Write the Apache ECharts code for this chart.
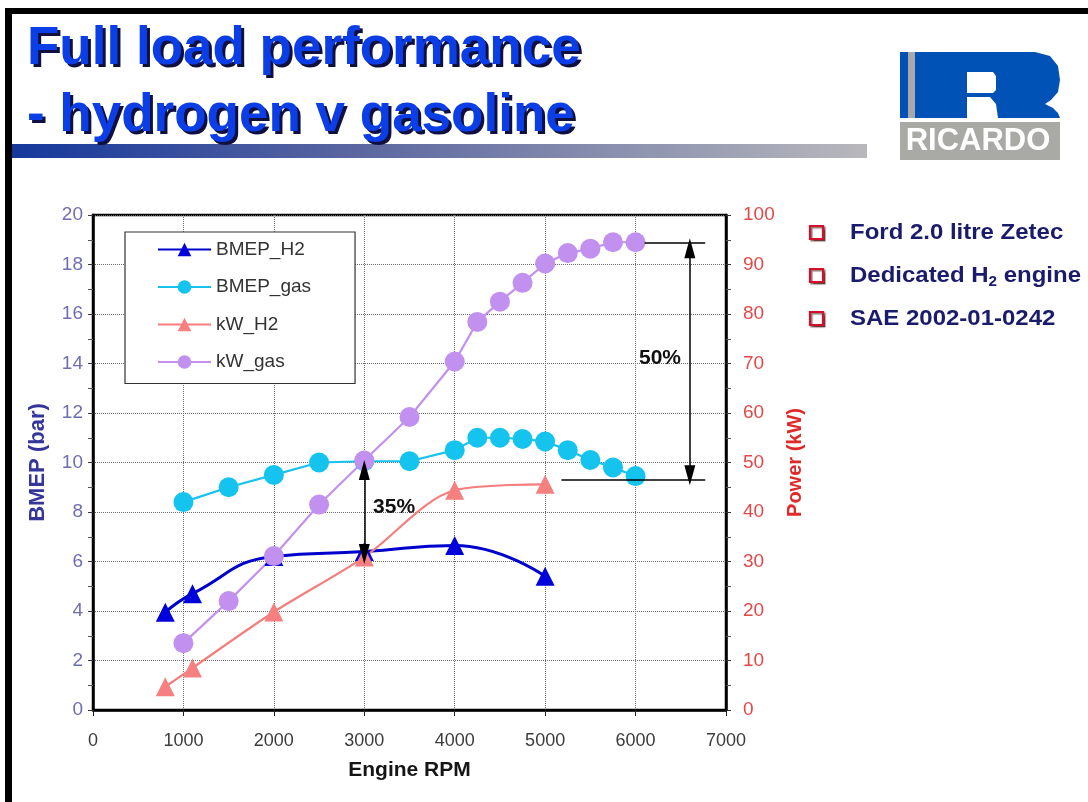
<!DOCTYPE html>
<html>
<head>
<meta charset="utf-8">
<script src="https://cdn.jsdelivr.net/npm/echarts@6/dist/echarts.min.js"></script>
<style>
html,body{margin:0;padding:0;background:#fff;}
#c{width:1088px;height:802px;}
</style>
</head>
<body>
<div id="c"></div>
<script>
// ---- data ----
const rpmH2   = [800, 1100, 2000, 3000, 4000, 5000];
const bmepH2  = [3.95, 4.7, 6.2, 6.4, 6.65, 5.4];
const kwH2    = [4.7, 8.5, 19.8, 30.9, 44.4, 45.6];
const rpmGas  = [1000, 1500, 2000, 2500, 3000, 3500, 4000, 4250, 4500, 4750, 5000, 5250, 5500, 5750, 6000];
const bmepGas = [8.4, 9.0, 9.5, 10.0, 10.05, 10.05, 10.5, 11.0, 11.0, 10.95, 10.85, 10.5, 10.1, 9.8, 9.45];
const kwGas   = [13.5, 22.0, 31.1, 41.5, 50.4, 59.2, 70.4, 78.4, 82.5, 86.3, 90.2, 92.3, 93.2, 94.5, 94.5];
const seriesNames = ['BMEP_H2', 'BMEP_gas', 'kW_H2', 'kW_gas'];
const titleLines = ['Full load performance', '- hydrogen v gasoline'];
const bullets = ['Ford 2.0 litre Zetec', 'Dedicated H|2| engine', 'SAE 2002-01-0242'];
const annotations = ['35%', '50%'];

const FF = "'Liberation Sans', Arial, sans-serif";
const pairs = (xs, ys) => xs.map((x, i) => [x, ys[i]]);

const chart = echarts.init(document.getElementById('c'), null, {renderer: 'canvas'});

const bulletY = [233, 276, 319];
const bulletGraphics = [];
bullets.forEach((b, i) => {
  bulletGraphics.push({
    type: 'rect', x: 810, y: bulletY[i] - 7,
    shape: {x: 0, y: 0, width: 13, height: 13},
    style: {fill: '#fff', stroke: '#d2102c', lineWidth: 2.2,
            shadowColor: 'rgba(60,0,0,0.55)', shadowOffsetX: 1.5, shadowOffsetY: 1.5, shadowBlur: 1}
  });
  const parts = b.split('|');
  let txt;
  if (parts.length === 3) {
    txt = '{a|' + parts[0] + '}{b|' + parts[1] + '}{a|' + parts[2] + '}';
  } else {
    txt = '{a|' + b + '}';
  }
  bulletGraphics.push({
    type: 'text', x: 850, y: bulletY[i], scaleX: 1.09,
    style: {
      text: txt, x: 0, y: 0, verticalAlign: 'middle', align: 'left',
      rich: {
        a: {fontSize: 22, fontWeight: 'bold', fontFamily: FF, fill: '#1b1b6e'},
        b: {fontSize: 14, fontWeight: 'bold', fontFamily: FF, fill: '#1b1b6e', padding: [12, 0, 0, 0]}
      }
    }
  });
});

const titleFont = "bold 53px 'Liberation Sans', Arial, sans-serif";
const titleY = [49, 116];
const titleGraphics = [];
titleLines.forEach((t, i) => {
  titleGraphics.push({type: 'text', x: 30, y: titleY[i] + 3,
    style: {text: t, x: 0, y: 0, verticalAlign: 'middle', font: titleFont, fill: '#101040'}});
  titleGraphics.push({type: 'text', x: 27, y: titleY[i],
    style: {text: t, x: 0, y: 0, verticalAlign: 'middle', font: titleFont, fill: '#0c3ee8'}});
});

const option = {
  animation: false,
  backgroundColor: '#fff',
  textStyle: {fontFamily: FF},
  grid: {left: 93, top: 215, width: 633, height: 495, show: true,
         borderColor: '#000', borderWidth: 2.5, backgroundColor: 'transparent', containLabel: false},
  legend: {
    data: seriesNames, orient: 'vertical', left: 125, top: 232,
    padding: [8, 44, 12, 32], itemGap: 18.5, itemWidth: 53, itemHeight: 17,
    borderColor: '#333', borderWidth: 1.2, backgroundColor: '#fff',
    textStyle: {fontSize: 19, color: '#333', fontFamily: FF, lineHeight: 19, padding: [0, 0, 0, 0]}
  },
  xAxis: {
    type: 'value', min: 0, max: 7000, interval: 1000,
    axisLine: {show: true, onZero: false, lineStyle: {color: '#000', width: 2.5}},
    axisTick: {show: true, length: 6, lineStyle: {color: '#222'}},
    splitLine: {show: true, lineStyle: {color: '#6a6a6a', type: 'dotted', width: 1}},
    axisLabel: {color: '#3c3c3c', fontSize: 18, margin: 22, fontFamily: FF, formatter: v => String(v)},
    name: 'Engine RPM', nameLocation: 'middle', nameGap: 50,
    nameTextStyle: {fontSize: 21, fontWeight: 'bold', color: '#151515', fontFamily: FF}
  },
  yAxis: [
    {
      type: 'value', min: 0, max: 20, interval: 2, position: 'left',
      axisLine: {show: true, onZero: false, lineStyle: {color: '#000', width: 2.5}},
      axisTick: {show: true, length: 5, lineStyle: {color: '#333'}},
      minorTick: {show: true, splitNumber: 2, length: 5, lineStyle: {color: '#555'}},
      splitLine: {show: true, lineStyle: {color: '#6a6a6a', type: 'dotted', width: 1}},
      axisLabel: {color: '#6e6eb2', fontSize: 19, margin: 10, fontFamily: FF},
      name: 'BMEP (bar)', nameLocation: 'middle', nameRotate: 90, nameGap: 44,
      nameTextStyle: {fontSize: 22, fontWeight: 'bold', color: '#35359a', fontFamily: FF}
    },
    {
      type: 'value', min: 0, max: 100, interval: 10, position: 'right',
      axisLine: {show: true, onZero: false, lineStyle: {color: '#000', width: 2.5}},
      axisTick: {show: true, length: 5, lineStyle: {color: '#333'}},
      minorTick: {show: true, splitNumber: 2, length: 5, lineStyle: {color: '#555'}},
      splitLine: {show: false},
      axisLabel: {color: '#e54848', fontSize: 19, margin: 17, fontFamily: FF},
      name: 'Power (kW)', nameLocation: 'middle', nameRotate: 90, nameGap: 56,
      nameTextStyle: {fontSize: 20, fontWeight: 'bold', color: '#e02a2a', fontFamily: FF}
    }
  ],
  series: [
    {
      name: seriesNames[0], type: 'line', yAxisIndex: 0, data: pairs(rpmH2, bmepH2),
      smooth: 0.5, symbol: 'triangle', symbolSize: 19,
      lineStyle: {color: '#0000cc', width: 3}, itemStyle: {color: '#0000dd'}
    },
    {
      name: seriesNames[1], type: 'line', yAxisIndex: 0, data: pairs(rpmGas, bmepGas),
      symbol: 'circle', symbolSize: 20,
      lineStyle: {color: '#17c2ec', width: 2.2}, itemStyle: {color: '#14c4ee'}
    },
    {
      name: seriesNames[2], type: 'line', yAxisIndex: 1, data: pairs(rpmH2, kwH2),
      smooth: 0.3, symbol: 'triangle', symbolSize: 19,
      lineStyle: {color: '#f47d7d', width: 2.2}, itemStyle: {color: '#f68080'}
    },
    {
      name: seriesNames[3], type: 'line', yAxisIndex: 1, data: pairs(rpmGas, kwGas),
      symbol: 'circle', symbolSize: 20,
      lineStyle: {color: '#c390f0', width: 2.2}, itemStyle: {color: '#c291f0'},
      markLine: {
        silent: true, symbolSize: [11, 20], label: {show: false},
        lineStyle: {color: '#000', width: 1.5, type: 'solid'},
        data: [
          [{coord: [3000, 48.5], symbol: 'triangle'}, {coord: [3000, 31.5], symbol: 'triangle'}],
          [{coord: [6100, 94.3], symbol: 'none'}, {coord: [6770, 94.3], symbol: 'none'}],
          [{coord: [5180, 46.5], symbol: 'none'}, {coord: [6770, 46.5], symbol: 'none'}],
          [{coord: [6600, 93.3], symbol: 'triangle'}, {coord: [6600, 47.4], symbol: 'triangle'}]
        ]
      },
      markPoint: {
        silent: true, symbol: 'rect', symbolSize: 1,
        itemStyle: {color: 'rgba(0,0,0,0)'},
        label: {show: true, position: 'inside', fontSize: 21, fontWeight: 'bold', color: '#111', fontFamily: FF},
        data: [
          {coord: [3330, 41], value: annotations[0], label: {formatter: annotations[0]}},
          {coord: [6270, 71], value: annotations[1], label: {formatter: annotations[1]}}
        ]
      }
    }
  ],
  graphic: [
    // slide frame
    {type: 'rect', shape: {x: 5, y: 8, width: 1083, height: 6}, style: {fill: '#000'}},
    {type: 'rect', shape: {x: 5, y: 8, width: 7, height: 794}, style: {fill: '#000'}},
    // gradient bar under title
    {type: 'rect', shape: {x: 12, y: 144, width: 855, height: 14},
     style: {fill: new echarts.graphic.LinearGradient(0, 0, 1, 0, [
       {offset: 0, color: '#15389c'}, {offset: 0.4, color: '#5a66a0'}, {offset: 1, color: '#b8b8bc'}])}},
    // Ricardo logo
    {type: 'polygon', shape: {points: [[900,52],[1035,52],[1050,56],[1058,66],[1060,80],[1058,92],[1051,100],[1045,104],[1053,108],[1058,113],[1060,118],[900,118]]},
     style: {fill: '#0052b6'}},
    {type: 'rect', shape: {x: 908, y: 52, width: 7, height: 66}, style: {fill: '#a8a8a8'}},
    {type: 'polygon', shape: {points: [[967,72],[993,72],[996,76],[996,90],[993,93],[967,93]]}, style: {fill: '#fff'}},
    {type: 'polygon', shape: {points: [[967,97],[990,97],[996,104],[998,118],[967,118]]}, style: {fill: '#fff'}},
    {type: 'rect', shape: {x: 900, y: 122, width: 160, height: 38}, style: {fill: '#a9a9a5'}},
    {type: 'text', x: 978, y: 141, style: {text: 'RICARDO', x: 0, y: 0, align: 'center', verticalAlign: 'middle',
      font: "bold 31px 'Liberation Sans', Arial, sans-serif", fill: '#fff'}}
  ].concat(titleGraphics, bulletGraphics)
};

chart.setOption(option);
</script>
</body>
</html>
